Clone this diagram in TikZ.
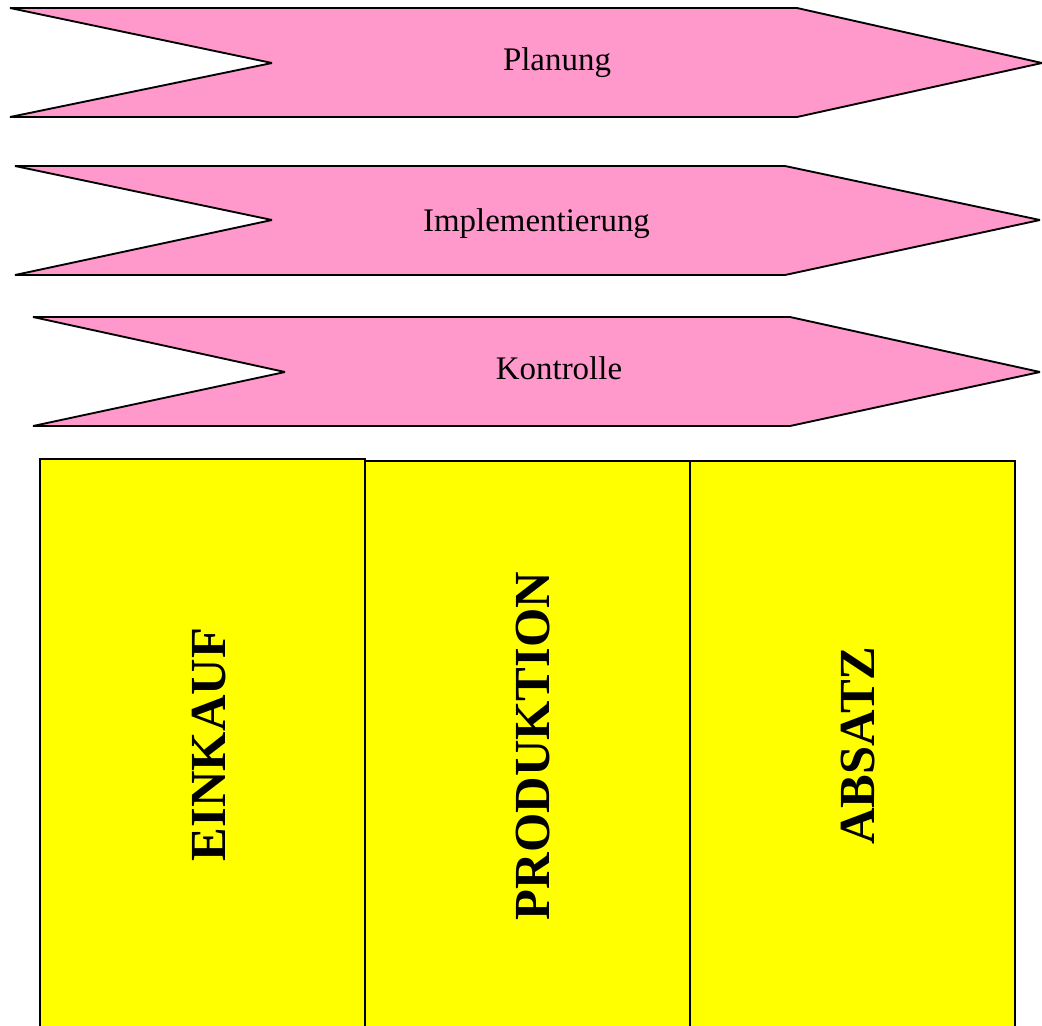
\documentclass[tikz,border=0pt]{standalone}
\usepackage{fontspec}
\setmainfont{Liberation Serif}
\definecolor{arrowpink}{HTML}{FF99CC}
\definecolor{areayellow}{HTML}{FFFF00}
\begin{document}
\begin{tikzpicture}[x=0.75pt,y=-0.75pt,
  phase/.style={fill=arrowpink,draw=black,line width=1.4pt,line join=miter,miter limit=2},
  area/.style={fill=areayellow,draw=black,line width=1.4pt},
  phaselabel/.style={font=\fontsize{24.7}{28}\selectfont,inner sep=0pt,anchor=base},
  arealabel/.style={font=\fontsize{37.9}{42}\selectfont\bfseries,rotate=90,inner sep=0pt}]
\useasboundingbox (0,0) rectangle (1042,1025);
\clip (0,0) rectangle (1042,1025);

% process phases (chevrons)
\draw[phase] (10,8) -- (797,8) -- (1042,63) -- (797,117) -- (10,117) -- (272,63) -- cycle;
\draw[phase] (15,166) -- (785,166) -- (1040,220) -- (785,275) -- (15,275) -- (272,220) -- cycle;
\draw[phase] (33,317) -- (790,317) -- (1040,372) -- (790,426) -- (33,426) -- (285,372) -- cycle;

\node[phaselabel] (plan) at (557,70.5) {Planung};
\node[phaselabel] (impl) at (536.5,231) {Implementierung};
\node[phaselabel] (kontr) at (559,379.5) {Kontrolle};

% functional areas
\draw[area] (40,1040) rectangle (365,459);
\draw[area] (365,1040) rectangle (690,461);
\draw[area] (690,1040) rectangle (1015,461);

\node[arealabel] (einkauf) at (209,744.5) {EINKAUF};
\node[arealabel] (produktion) at (533,746) {PRODUKTION};
\node[arealabel] (absatz) at (858.5,745.5) {ABSATZ};
\end{tikzpicture}
\end{document}
